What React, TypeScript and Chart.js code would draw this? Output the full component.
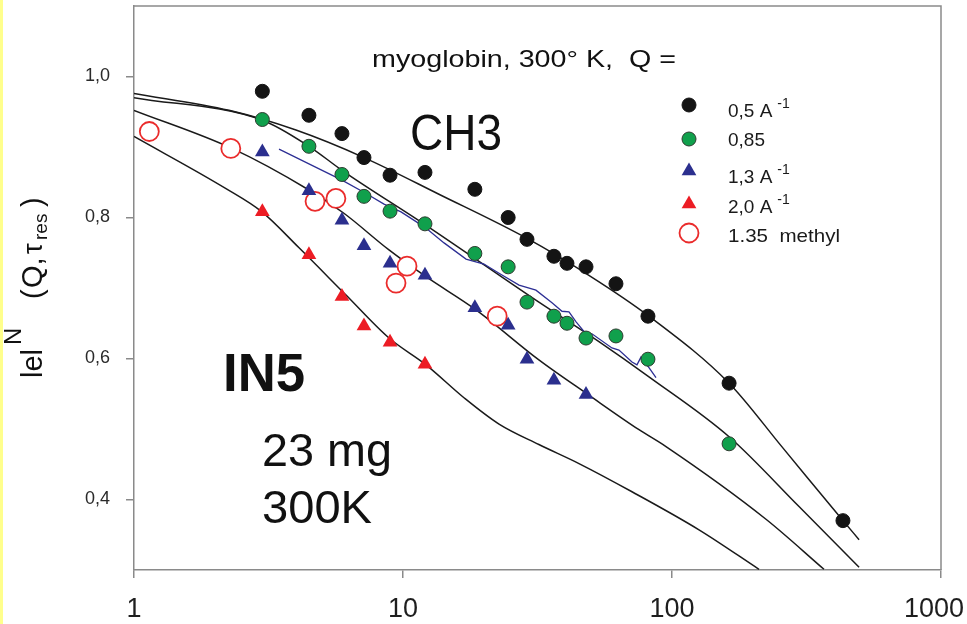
import React, { useEffect, useRef } from 'react';
import { Chart, registerables } from 'chart.js';

Chart.register(...registerables);

const FONT = '"Liberation Sans", Arial, Helvetica, sans-serif';
const AXIS = '#8a8a8a';

// ---------- data (tau_res in ps, normalised elastic intensity) ----------
const tauQ05 = [3.0, 4.47, 5.93, 7.16, 8.95, 12.07, 18.5, 24.6, 28.9, 36.4, 40.7, 47.9, 61.9, 81.4, 163, 432];
const elQ05 = [0.979, 0.945, 0.919, 0.885, 0.86, 0.864, 0.84, 0.8, 0.769, 0.745, 0.735, 0.73, 0.706, 0.66, 0.565, 0.37];

const tauQ085 = [3.0, 4.47, 5.93, 7.16, 8.95, 12.07, 18.5, 24.6, 28.9, 36.4, 40.7, 47.9, 61.9, 81.4, 163];
const elQ085 = [0.939, 0.901, 0.861, 0.83, 0.809, 0.791, 0.749, 0.73, 0.68, 0.66, 0.65, 0.629, 0.632, 0.599, 0.479];

const tauQ13 = [3.0, 4.47, 5.93, 7.16, 8.95, 12.07, 18.5, 24.6, 28.9, 36.4, 47.9];
const elQ13 = [0.893, 0.838, 0.796, 0.76, 0.735, 0.718, 0.672, 0.647, 0.599, 0.569, 0.549];

const tauQ20 = [3.0, 4.47, 5.93, 7.16, 8.95, 12.07];
const elQ20 = [0.808, 0.747, 0.688, 0.646, 0.623, 0.592];

const tauMethyl = [1.14, 2.29, 4.71, 5.63, 9.42, 10.35, 22.4];
const elMethyl = [0.922, 0.898, 0.823, 0.827, 0.707, 0.731, 0.66];

// thin blue line (methyl simulation)
const tauMethylLine = [3.46, 5.93, 7.29, 8.5, 9.83, 12.07, 14.21, 17.15, 20.0, 22.75, 27.0, 31.2, 35.8, 39.0, 41.4, 44.0, 47.9, 50.4, 59.8, 63.5, 71.0, 74.1, 76.7, 82.1, 87.2];
const elMethylLine = [0.897, 0.853, 0.834, 0.819, 0.808, 0.786, 0.764, 0.741, 0.734, 0.721, 0.704, 0.697, 0.679, 0.667, 0.666, 0.652, 0.635, 0.635, 0.615, 0.612, 0.595, 0.591, 0.602, 0.587, 0.573];

// fit curves
const tauFitQ05 = [1.0, 2.255, 4.0, 7.16, 13.6, 28.7, 49.1, 82.1, 163, 256, 428, 496];
const elFitQ05 = [0.976, 0.952, 0.924, 0.885, 0.833, 0.771, 0.718, 0.66, 0.565, 0.475, 0.372, 0.343];

const tauFitQ085 = [1.0, 3.0, 4.47, 5.93, 12.18, 32.0, 53.5, 82.1, 163, 296.6, 496];
const elFitQ085 = [0.97, 0.938, 0.901, 0.867, 0.789, 0.68, 0.624, 0.574, 0.489, 0.39, 0.304];

const tauFitQ13 = [1.0, 2.314, 4.47, 6.03, 8.87, 12.18, 18.68, 32.0, 49.1, 75.4, 95.0, 223.6, 367.3];
const elFitQ13 = [0.952, 0.898, 0.839, 0.806, 0.754, 0.716, 0.669, 0.598, 0.548, 0.499, 0.475, 0.372, 0.301];

const tauFitQ20 = [1.0, 2.198, 2.99, 4.107, 6.14, 8.87, 12.18, 16.9, 22.75, 32.0, 45.1, 71.0, 126, 210.6];
const elFitQ20 = [0.915, 0.841, 0.808, 0.757, 0.69, 0.629, 0.591, 0.544, 0.507, 0.478, 0.451, 0.411, 0.357, 0.301];

const xTickValues = [1, 10, 100, 1000];
const yTickValues = [0.4, 0.6, 0.8, 1.0];

const legendLabels = ['0,5 A', '0,85', '1,3 A', '2,0 A', '1.35  methyl'];
const legendSup = ['-1', '', '-1', '-1', ''];

const pts = (xs: number[], ys: number[]) => xs.map((x, i) => ({ x, y: ys[i] }));

const COLORS = {
  black: '#141414',
  green: '#10a04c',
  greenEdge: '#2e3b30',
  blue: '#2b2f8e',
  red: '#ec1c24',
  methyl: '#ea2b2b',
  fit: '#1a1a1a',
  blueLine: '#2d2f94',
};

function drawText(ctx: CanvasRenderingContext2D, s: string, x: number, y: number, font: string, width?: number) {
  ctx.save();
  ctx.font = font;
  ctx.textAlign = 'left';
  ctx.textBaseline = 'alphabetic';
  ctx.translate(x, y);
  if (width) {
    const m = ctx.measureText(s).width;
    ctx.scale(width / m, 1);
  }
  ctx.fillText(s, 0, 0);
  ctx.restore();
}

function marker(ctx: CanvasRenderingContext2D, kind: string, x: number, y: number) {
  ctx.save();
  ctx.beginPath();
  if (kind === 'tri-blue' || kind === 'tri-red') {
    const r = 8.5;
    for (let k = 0; k < 3; k++) {
      const a = (k * 2 * Math.PI) / 3;
      const px = x + Math.sin(a) * r;
      const py = y - Math.cos(a) * r;
      if (k === 0) ctx.moveTo(px, py);
      else ctx.lineTo(px, py);
    }
    ctx.closePath();
    ctx.fillStyle = kind === 'tri-blue' ? COLORS.blue : COLORS.red;
    ctx.fill();
  } else if (kind === 'open') {
    ctx.arc(x, y, 9.5, 0, Math.PI * 2);
    ctx.fillStyle = '#fff';
    ctx.fill();
    ctx.lineWidth = 1.8;
    ctx.strokeStyle = COLORS.methyl;
    ctx.stroke();
  } else {
    ctx.arc(x, y, 7, 0, Math.PI * 2);
    ctx.fillStyle = kind === 'green' ? COLORS.green : COLORS.black;
    ctx.fill();
    ctx.lineWidth = 1;
    ctx.strokeStyle = kind === 'green' ? COLORS.greenEdge : COLORS.black;
    ctx.stroke();
  }
  ctx.restore();
}

const decorPlugin = {
  id: 'decor',
  afterDraw(chart: any) {
    const ctx: CanvasRenderingContext2D = chart.ctx;
    const { left, top, right, bottom } = chart.chartArea;
    ctx.save();
    // frame top & right
    ctx.strokeStyle = AXIS;
    ctx.lineWidth = 1.5;
    ctx.beginPath();
    ctx.moveTo(left, top);
    ctx.lineTo(right, top);
    ctx.lineTo(right, bottom);
    ctx.stroke();

    // x tick labels (placed from the log scale, last one kept inside the canvas)
    const xs = chart.scales.x;
    ctx.fillStyle = '#1e1e1e';
    ctx.font = `27px ${FONT}`;
    ctx.textBaseline = 'alphabetic';
    ctx.textAlign = 'left';
    for (const v of xTickValues) {
      const s = String(v);
      const w = ctx.measureText(s).width;
      let lx = xs.getPixelForValue(v) - w / 2;
      if (lx + w > chart.width - 3) lx = chart.width - 3 - w;
      ctx.fillText(s, lx, 617);
    }

    ctx.fillStyle = '#111';
    drawText(ctx, 'myoglobin, 300° K,  Q =', 372, 67, `24px ${FONT}`, 304);
    drawText(ctx, 'CH3', 410, 150, `50px ${FONT}`, 92);
    drawText(ctx, 'IN5', 223, 391, `bold 54px ${FONT}`, 82);
    drawText(ctx, '23 mg', 262, 466, `46px ${FONT}`, 130);
    drawText(ctx, '300K', 262, 523, `46px ${FONT}`, 110);

    // legend
    const kinds = ['black', 'green', 'tri-blue', 'tri-red', 'open'];
    const markerY = [105, 139, 171, 204, 233];
    const baseY = [117, 146, 183, 213, 242];
    for (let i = 0; i < kinds.length; i++) {
      marker(ctx, kinds[i], 689, markerY[i]);
      ctx.fillStyle = '#1a1a1a';
      const main = legendLabels[i];
      if (i === 4) drawText(ctx, main, 728, baseY[i], `19px ${FONT}`, 112);
      else drawText(ctx, main, 728, baseY[i], `19px ${FONT}`);
      if (legendSup[i]) {
        ctx.font = `19px ${FONT}`;
        const w = ctx.measureText(main).width;
        drawText(ctx, legendSup[i], 728 + w + 5, baseY[i] - 9, `14px ${FONT}`);
      }
    }

    // y-axis title
    ctx.save();
    ctx.translate(42, 378);
    ctx.rotate(-Math.PI / 2);
    ctx.fillStyle = '#111';
    const part = (s: string, off: number, size: number, dy: number) => {
      ctx.font = `${size}px ${FONT}`;
      ctx.fillText(s, off, dy);
    };
    part('lel', 0, 29, 0);
    part('N', 33, 24, -21);
    part('(', 79, 29, 0);
    part('Q,', 90, 29, 0);
    part('τ', 124, 27, 0);
    part('res', 138, 19, 5);
    part(')', 171, 29, 0);
    ctx.restore();

    ctx.restore();
  },
};

export default function App() {
  const ref = useRef<HTMLCanvasElement | null>(null);

  useEffect(() => {
    document.body.style.margin = '0';
    const canvas = ref.current;
    if (!canvas) return;

    const scatterBase = { showLine: false, order: 0 };
    const lineBase = {
      showLine: true,
      pointRadius: 0,
      borderColor: COLORS.fit,
      borderWidth: 1.5,
      cubicInterpolationMode: 'monotone' as const,
      order: 2,
      fill: false,
    };

    const chart = new Chart(canvas, {
      type: 'scatter',
      data: {
        datasets: [
          { ...scatterBase, label: '0,5 A-1', data: pts(tauQ05, elQ05), pointStyle: 'circle', pointRadius: 7, backgroundColor: COLORS.black, borderColor: COLORS.black, borderWidth: 1 },
          { ...scatterBase, label: '0,85', data: pts(tauQ085, elQ085), pointStyle: 'circle', pointRadius: 7, backgroundColor: COLORS.green, borderColor: COLORS.greenEdge, borderWidth: 1 },
          { ...scatterBase, label: '1,3 A-1', data: pts(tauQ13, elQ13), pointStyle: 'triangle', pointRadius: 8.5, backgroundColor: COLORS.blue, borderColor: COLORS.blue, borderWidth: 0 },
          { ...scatterBase, label: '2,0 A-1', data: pts(tauQ20, elQ20), pointStyle: 'triangle', pointRadius: 8.5, backgroundColor: COLORS.red, borderColor: COLORS.red, borderWidth: 0 },
          { ...scatterBase, label: '1.35 methyl', data: pts(tauMethyl, elMethyl), pointStyle: 'circle', pointRadius: 9.5, backgroundColor: '#ffffff', borderColor: COLORS.methyl, borderWidth: 1.8 },
          { showLine: true, pointRadius: 0, label: 'methyl sim', data: pts(tauMethylLine, elMethylLine), borderColor: COLORS.blueLine, borderWidth: 1.3, tension: 0, order: 1, fill: false },
          { ...lineBase, label: 'fit 0.5', data: pts(tauFitQ05, elFitQ05) },
          { ...lineBase, label: 'fit 0.85', data: pts(tauFitQ085, elFitQ085) },
          { ...lineBase, label: 'fit 1.3', data: pts(tauFitQ13, elFitQ13) },
          { ...lineBase, label: 'fit 2.0', data: pts(tauFitQ20, elFitQ20) },
        ] as any,
      },
      options: {
        responsive: false,
        maintainAspectRatio: false,
        animation: false,
        events: [],
        layout: { autoPadding: false, padding: { left: 0, right: 26, top: 6, bottom: 0 } },
        plugins: {
          legend: { display: false },
          tooltip: { enabled: false },
          title: { display: false },
        },
        scales: {
          x: {
            type: 'logarithmic',
            min: 1,
            max: 1000,
            afterBuildTicks: (s: any) => {
              s.ticks = xTickValues.map((v) => ({ value: v }));
            },
            afterFit: (s: any) => {
              s.height = 54;
              s.paddingLeft = 0;
              s.paddingRight = 0;
            },
            ticks: {
              display: false,
              autoSkip: false,
              maxRotation: 0,
              callback: (v: any) => String(v),
            },
            grid: { drawOnChartArea: false, drawTicks: true, tickLength: 8, color: AXIS, lineWidth: 1.5 },
            border: { display: true, color: AXIS, width: 1.5 },
          },
          y: {
            type: 'linear',
            min: 0.3,
            max: 1.1,
            afterBuildTicks: (s: any) => {
              s.ticks = yTickValues.map((v) => ({ value: v }));
            },
            afterFit: (s: any) => {
              s.width = 134;
              s.paddingTop = 0;
              s.paddingBottom = 0;
            },
            ticks: {
              autoSkip: false,
              padding: 16,
              color: '#2a2a2a',
              font: { family: FONT, size: 18 },
              callback: (v: any) => Number(v).toFixed(1).replace('.', ','),
            },
            grid: { drawOnChartArea: false, drawTicks: true, tickLength: 8, color: AXIS, lineWidth: 1.5 },
            border: { display: true, color: AXIS, width: 1.5 },
          },
        },
      },
      plugins: [decorPlugin],
    } as any);

    return () => chart.destroy();
  }, []);

  return (
    <div style={{ position: 'relative', width: 967, height: 624, background: '#ffffff', overflow: 'hidden' }}>
      <canvas ref={ref} width={967} height={624} style={{ display: 'block', width: 967, height: 624 }} />
      <div style={{ position: 'absolute', left: 0, top: 0, width: 3, height: 624, background: '#ffff8c' }} />
    </div>
  );
}
